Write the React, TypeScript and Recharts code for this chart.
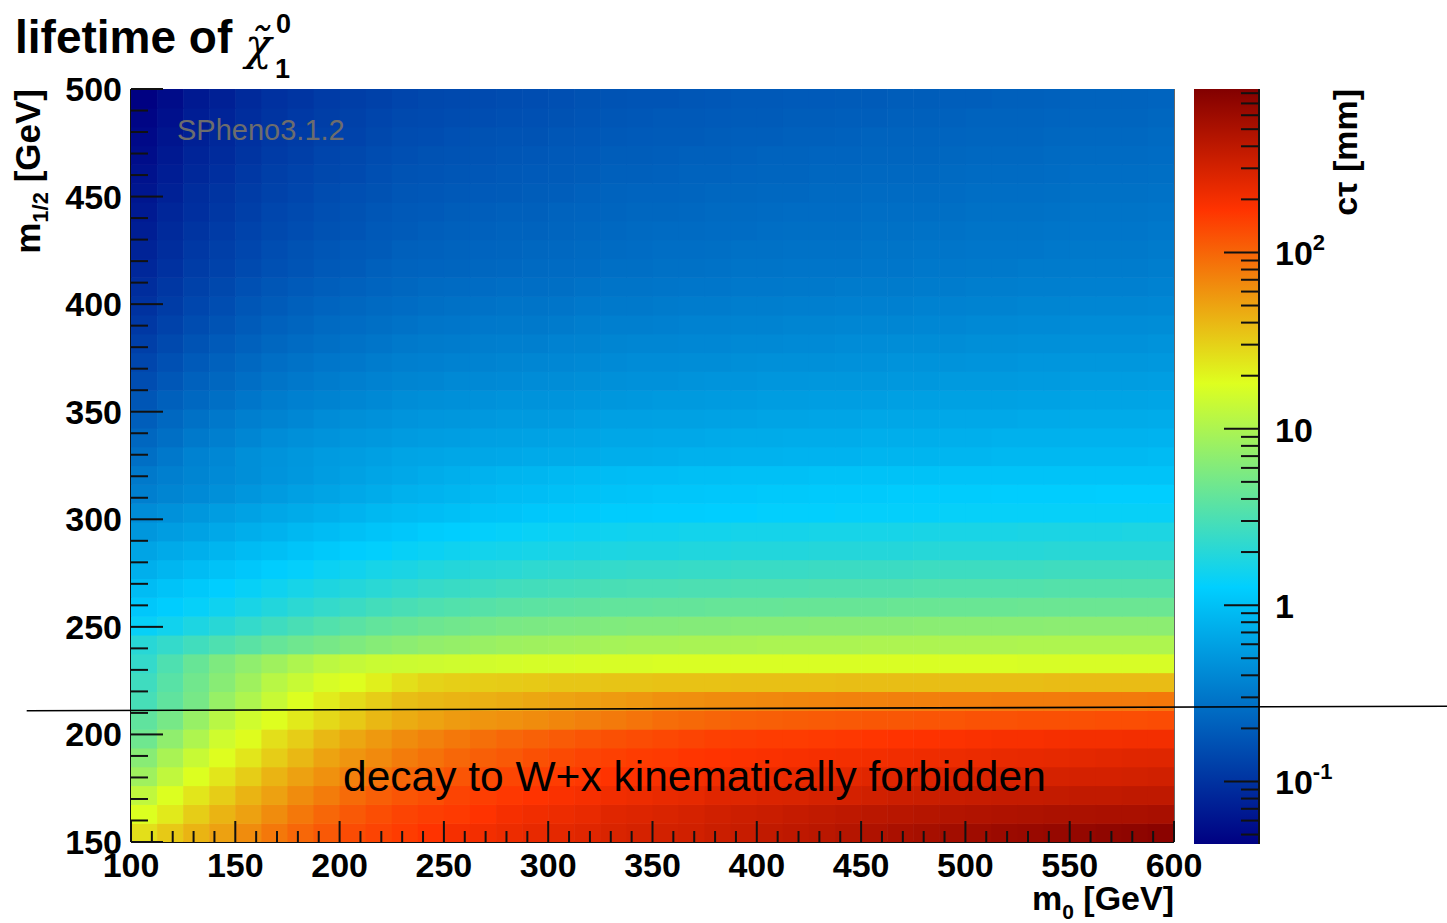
import React from 'react';
import { ScatterChart, Scatter, XAxis, YAxis, ReferenceLine } from 'recharts';

// bin edges of the 2D histogram
const m0Edges = [100, 112.5, 125, 137.5, 150, 162.5, 175, 187.5, 200, 212.5, 225, 237.5, 250, 262.5, 275, 287.5, 300, 312.5, 325, 337.5, 350, 362.5, 375, 387.5, 400, 412.5, 425, 437.5, 450, 462.5, 475, 487.5, 500, 512.5, 525, 537.5, 550, 562.5, 575, 587.5, 600];
const m12Edges = [150, 158.75, 167.5, 176.25, 185, 193.75, 202.5, 211.25, 220, 228.75, 237.5, 246.25, 255, 263.75, 272.5, 281.25, 290, 298.75, 307.5, 316.25, 325, 333.75, 342.5, 351.25, 360, 368.75, 377.5, 386.25, 395, 403.75, 412.5, 421.25, 430, 438.75, 447.5, 456.25, 465, 473.75, 482.5, 491.25, 500];

// log10(c tau / mm), one array per m1/2 bin, m0 bins left to right
const m12_150 = [1.41, 1.52, 1.62, 1.71, 1.81, 1.91, 1.99, 2.06, 2.12, 2.16, 2.20, 2.24, 2.29, 2.31, 2.34, 2.37, 2.39, 2.41, 2.45, 2.47, 2.49, 2.50, 2.53, 2.55, 2.58, 2.60, 2.62, 2.65, 2.68, 2.71, 2.73, 2.75, 2.77, 2.79, 2.80, 2.82, 2.83, 2.85, 2.86, 2.88];
const m12_158 = [1.25, 1.36, 1.50, 1.62, 1.71, 1.81, 1.91, 1.99, 2.06, 2.11, 2.16, 2.19, 2.21, 2.24, 2.29, 2.32, 2.34, 2.36, 2.41, 2.43, 2.45, 2.47, 2.50, 2.52, 2.54, 2.56, 2.58, 2.60, 2.62, 2.63, 2.65, 2.66, 2.67, 2.68, 2.69, 2.70, 2.70, 2.71, 2.71, 2.72];
const m12_167 = [1.10, 1.25, 1.38, 1.50, 1.62, 1.71, 1.81, 1.89, 1.97, 2.03, 2.08, 2.11, 2.16, 2.19, 2.22, 2.24, 2.27, 2.29, 2.32, 2.34, 2.36, 2.38, 2.41, 2.42, 2.44, 2.45, 2.47, 2.48, 2.50, 2.52, 2.53, 2.54, 2.55, 2.56, 2.56, 2.57, 2.58, 2.58, 2.59, 2.59];
const m12_176 = [0.93, 1.10, 1.25, 1.38, 1.50, 1.62, 1.71, 1.79, 1.87, 1.93, 1.99, 2.03, 2.08, 2.12, 2.15, 2.18, 2.20, 2.22, 2.24, 2.26, 2.28, 2.30, 2.32, 2.34, 2.35, 2.36, 2.38, 2.39, 2.41, 2.42, 2.43, 2.44, 2.45, 2.46, 2.46, 2.47, 2.48, 2.48, 2.49, 2.50];
const m12_185 = [0.81, 0.98, 1.14, 1.26, 1.38, 1.50, 1.60, 1.70, 1.77, 1.82, 1.89, 1.94, 1.99, 2.03, 2.06, 2.10, 2.13, 2.16, 2.18, 2.20, 2.21, 2.23, 2.24, 2.26, 2.27, 2.28, 2.29, 2.30, 2.31, 2.32, 2.33, 2.34, 2.35, 2.36, 2.37, 2.38, 2.39, 2.40, 2.41, 2.42];
const m12_193 = [0.68, 0.85, 1.01, 1.18, 1.27, 1.41, 1.50, 1.60, 1.68, 1.75, 1.81, 1.86, 1.91, 1.95, 1.99, 2.02, 2.05, 2.08, 2.10, 2.12, 2.14, 2.16, 2.18, 2.19, 2.20, 2.20, 2.21, 2.22, 2.23, 2.24, 2.25, 2.26, 2.27, 2.28, 2.28, 2.29, 2.30, 2.30, 2.31, 2.31];
const m12_202 = [0.60, 0.72, 0.89, 1.06, 1.18, 1.26, 1.36, 1.44, 1.52, 1.60, 1.66, 1.70, 1.74, 1.77, 1.79, 1.81, 1.84, 1.87, 1.90, 1.93, 1.96, 1.98, 2.00, 2.02, 2.03, 2.04, 2.05, 2.06, 2.07, 2.07, 2.08, 2.08, 2.09, 2.09, 2.10, 2.10, 2.10, 2.11, 2.11, 2.12];
const m12_211 = [0.47, 0.60, 0.72, 0.89, 1.01, 1.14, 1.25, 1.35, 1.43, 1.50, 1.57, 1.60, 1.62, 1.64, 1.66, 1.68, 1.70, 1.72, 1.74, 1.76, 1.79, 1.80, 1.81, 1.82, 1.83, 1.84, 1.85, 1.86, 1.86, 1.87, 1.87, 1.88, 1.88, 1.89, 1.89, 1.89, 1.90, 1.90, 1.90, 1.91];
const m12_220 = [0.43, 0.56, 0.69, 0.81, 0.93, 1.06, 1.14, 1.22, 1.26, 1.33, 1.41, 1.47, 1.49, 1.50, 1.51, 1.52, 1.53, 1.53, 1.54, 1.54, 1.55, 1.55, 1.55, 1.56, 1.56, 1.56, 1.56, 1.57, 1.57, 1.57, 1.57, 1.57, 1.57, 1.57, 1.57, 1.58, 1.58, 1.58, 1.58, 1.58];
const m12_228 = [0.37, 0.51, 0.64, 0.76, 0.85, 0.93, 1.01, 1.08, 1.12, 1.15, 1.16, 1.17, 1.18, 1.19, 1.20, 1.21, 1.21, 1.22, 1.22, 1.22, 1.23, 1.23, 1.23, 1.23, 1.23, 1.23, 1.23, 1.23, 1.23, 1.23, 1.23, 1.23, 1.23, 1.23, 1.22, 1.22, 1.22, 1.22, 1.22, 1.22];
const m12_237 = [0.31, 0.37, 0.44, 0.51, 0.57, 0.63, 0.68, 0.72, 0.76, 0.80, 0.83, 0.86, 0.88, 0.90, 0.92, 0.93, 0.94, 0.95, 0.96, 0.97, 0.97, 0.98, 0.98, 0.98, 0.99, 0.99, 0.99, 0.99, 1.00, 1.00, 1.00, 1.00, 1.00, 1.00, 1.01, 1.01, 1.01, 1.01, 1.01, 1.01];
const m12_246 = [0.14, 0.19, 0.25, 0.31, 0.37, 0.43, 0.48, 0.53, 0.57, 0.61, 0.64, 0.67, 0.69, 0.71, 0.73, 0.74, 0.75, 0.76, 0.77, 0.78, 0.78, 0.79, 0.79, 0.80, 0.80, 0.80, 0.81, 0.81, 0.81, 0.81, 0.82, 0.82, 0.82, 0.82, 0.82, 0.83, 0.83, 0.83, 0.83, 0.83];
const m12_255 = [0.05, 0.09, 0.13, 0.18, 0.23, 0.28, 0.33, 0.37, 0.41, 0.45, 0.48, 0.51, 0.53, 0.55, 0.57, 0.58, 0.59, 0.60, 0.61, 0.61, 0.62, 0.62, 0.63, 0.63, 0.63, 0.64, 0.64, 0.64, 0.64, 0.65, 0.65, 0.65, 0.65, 0.65, 0.66, 0.66, 0.66, 0.66, 0.66, 0.66];
const m12_263 = [-0.03, 0.02, 0.06, 0.10, 0.14, 0.18, 0.22, 0.26, 0.29, 0.32, 0.35, 0.38, 0.40, 0.42, 0.44, 0.45, 0.46, 0.47, 0.48, 0.49, 0.49, 0.50, 0.50, 0.51, 0.51, 0.51, 0.52, 0.52, 0.52, 0.52, 0.53, 0.53, 0.53, 0.53, 0.53, 0.54, 0.54, 0.54, 0.54, 0.54];
const m12_272 = [-0.12, -0.07, -0.03, 0.01, 0.05, 0.09, 0.12, 0.16, 0.19, 0.22, 0.24, 0.27, 0.29, 0.31, 0.32, 0.34, 0.35, 0.36, 0.37, 0.38, 0.38, 0.39, 0.39, 0.40, 0.40, 0.40, 0.41, 0.41, 0.41, 0.41, 0.42, 0.42, 0.42, 0.42, 0.42, 0.43, 0.43, 0.43, 0.43, 0.43];
const m12_281 = [-0.20, -0.16, -0.12, -0.08, -0.04, -0.01, 0.03, 0.06, 0.09, 0.11, 0.14, 0.16, 0.18, 0.20, 0.21, 0.22, 0.23, 0.24, 0.25, 0.26, 0.26, 0.27, 0.27, 0.28, 0.28, 0.28, 0.29, 0.29, 0.29, 0.29, 0.30, 0.30, 0.30, 0.30, 0.30, 0.31, 0.31, 0.31, 0.31, 0.31];
const m12_290 = [-0.29, -0.25, -0.21, -0.17, -0.13, -0.10, -0.06, -0.03, 0.00, 0.03, 0.05, 0.08, 0.10, 0.12, 0.13, 0.15, 0.16, 0.17, 0.18, 0.19, 0.19, 0.20, 0.20, 0.21, 0.21, 0.21, 0.22, 0.22, 0.22, 0.22, 0.23, 0.23, 0.23, 0.23, 0.24, 0.24, 0.24, 0.24, 0.25, 0.25];
const m12_298 = [-0.37, -0.33, -0.29, -0.25, -0.21, -0.18, -0.15, -0.12, -0.09, -0.06, -0.04, -0.02, 0.00, 0.02, 0.03, 0.05, 0.06, 0.07, 0.08, 0.08, 0.09, 0.09, 0.10, 0.10, 0.11, 0.11, 0.11, 0.12, 0.12, 0.12, 0.12, 0.13, 0.13, 0.13, 0.13, 0.13, 0.14, 0.14, 0.14, 0.14];
const m12_307 = [-0.46, -0.42, -0.38, -0.34, -0.30, -0.26, -0.23, -0.20, -0.17, -0.14, -0.11, -0.09, -0.07, -0.05, -0.03, -0.02, 0.00, 0.01, 0.02, 0.03, 0.04, 0.04, 0.05, 0.05, 0.06, 0.06, 0.07, 0.07, 0.07, 0.08, 0.08, 0.08, 0.08, 0.09, 0.09, 0.09, 0.09, 0.10, 0.10, 0.10];
const m12_316 = [-0.50, -0.46, -0.42, -0.38, -0.35, -0.31, -0.28, -0.25, -0.22, -0.19, -0.17, -0.14, -0.12, -0.10, -0.08, -0.07, -0.05, -0.04, -0.03, -0.02, -0.02, -0.01, -0.01, 0.00, 0.00, 0.00, 0.01, 0.01, 0.01, 0.01, 0.01, 0.02, 0.02, 0.02, 0.02, 0.02, 0.02, 0.02, 0.02, 0.02];
const m12_325 = [-0.57, -0.51, -0.44, -0.40, -0.35, -0.32, -0.29, -0.26, -0.25, -0.23, -0.20, -0.19, -0.18, -0.18, -0.17, -0.16, -0.15, -0.14, -0.13, -0.13, -0.12, -0.11, -0.11, -0.10, -0.10, -0.09, -0.09, -0.09, -0.08, -0.08, -0.08, -0.07, -0.07, -0.06, -0.06, -0.06, -0.05, -0.05, -0.05, -0.04];
const m12_333 = [-0.63, -0.57, -0.50, -0.46, -0.41, -0.37, -0.34, -0.32, -0.30, -0.28, -0.26, -0.25, -0.24, -0.23, -0.22, -0.21, -0.20, -0.19, -0.18, -0.18, -0.17, -0.17, -0.16, -0.15, -0.15, -0.14, -0.14, -0.14, -0.13, -0.13, -0.13, -0.12, -0.12, -0.11, -0.11, -0.11, -0.10, -0.10, -0.10, -0.09];
const m12_342 = [-0.69, -0.62, -0.56, -0.51, -0.46, -0.43, -0.40, -0.37, -0.35, -0.33, -0.31, -0.30, -0.29, -0.28, -0.27, -0.27, -0.26, -0.24, -0.23, -0.23, -0.22, -0.22, -0.21, -0.21, -0.20, -0.20, -0.19, -0.19, -0.18, -0.18, -0.18, -0.17, -0.17, -0.17, -0.16, -0.16, -0.15, -0.15, -0.15, -0.14];
const m12_351 = [-0.75, -0.68, -0.62, -0.57, -0.52, -0.48, -0.45, -0.43, -0.41, -0.39, -0.36, -0.35, -0.34, -0.33, -0.32, -0.32, -0.31, -0.30, -0.29, -0.28, -0.27, -0.27, -0.26, -0.26, -0.25, -0.25, -0.24, -0.24, -0.24, -0.23, -0.23, -0.22, -0.22, -0.22, -0.21, -0.21, -0.20, -0.20, -0.20, -0.19];
const m12_360 = [-0.81, -0.74, -0.67, -0.63, -0.58, -0.54, -0.51, -0.48, -0.46, -0.44, -0.42, -0.41, -0.39, -0.39, -0.38, -0.37, -0.36, -0.35, -0.34, -0.33, -0.33, -0.32, -0.31, -0.31, -0.30, -0.30, -0.29, -0.29, -0.29, -0.28, -0.28, -0.27, -0.27, -0.27, -0.26, -0.26, -0.25, -0.25, -0.25, -0.24];
const m12_368 = [-0.86, -0.79, -0.72, -0.67, -0.62, -0.58, -0.55, -0.52, -0.51, -0.48, -0.46, -0.45, -0.44, -0.43, -0.42, -0.41, -0.40, -0.39, -0.38, -0.37, -0.37, -0.36, -0.36, -0.35, -0.34, -0.34, -0.34, -0.33, -0.33, -0.32, -0.32, -0.32, -0.31, -0.31, -0.30, -0.30, -0.29, -0.29, -0.29, -0.28];
const m12_377 = [-0.91, -0.84, -0.77, -0.72, -0.67, -0.63, -0.60, -0.57, -0.55, -0.53, -0.50, -0.49, -0.48, -0.47, -0.46, -0.46, -0.44, -0.43, -0.42, -0.41, -0.41, -0.40, -0.40, -0.39, -0.39, -0.38, -0.38, -0.37, -0.37, -0.36, -0.36, -0.36, -0.35, -0.35, -0.34, -0.34, -0.33, -0.33, -0.33, -0.32];
const m12_386 = [-0.96, -0.89, -0.82, -0.77, -0.71, -0.67, -0.64, -0.61, -0.59, -0.57, -0.55, -0.53, -0.52, -0.51, -0.50, -0.50, -0.49, -0.47, -0.46, -0.46, -0.45, -0.44, -0.44, -0.43, -0.43, -0.42, -0.42, -0.41, -0.41, -0.41, -0.40, -0.40, -0.39, -0.39, -0.38, -0.38, -0.37, -0.37, -0.37, -0.36];
const m12_395 = [-1.00, -0.93, -0.86, -0.81, -0.75, -0.71, -0.68, -0.65, -0.63, -0.61, -0.59, -0.57, -0.56, -0.55, -0.54, -0.54, -0.53, -0.51, -0.50, -0.50, -0.49, -0.48, -0.48, -0.47, -0.47, -0.46, -0.46, -0.45, -0.45, -0.45, -0.44, -0.44, -0.43, -0.43, -0.42, -0.42, -0.41, -0.41, -0.41, -0.40];
const m12_403 = [-1.04, -0.97, -0.90, -0.85, -0.79, -0.75, -0.72, -0.69, -0.67, -0.65, -0.63, -0.61, -0.60, -0.59, -0.58, -0.58, -0.57, -0.55, -0.54, -0.54, -0.53, -0.52, -0.52, -0.51, -0.51, -0.50, -0.50, -0.49, -0.49, -0.49, -0.48, -0.48, -0.47, -0.47, -0.46, -0.46, -0.45, -0.45, -0.45, -0.44];
const m12_412 = [-1.08, -1.01, -0.93, -0.89, -0.83, -0.79, -0.76, -0.73, -0.71, -0.68, -0.66, -0.65, -0.64, -0.63, -0.62, -0.61, -0.60, -0.59, -0.57, -0.57, -0.56, -0.56, -0.55, -0.54, -0.54, -0.53, -0.53, -0.53, -0.52, -0.52, -0.51, -0.51, -0.50, -0.50, -0.49, -0.49, -0.48, -0.48, -0.48, -0.47];
const m12_421 = [-1.11, -1.04, -0.96, -0.91, -0.86, -0.81, -0.78, -0.75, -0.73, -0.71, -0.68, -0.67, -0.66, -0.65, -0.64, -0.63, -0.62, -0.61, -0.60, -0.59, -0.58, -0.58, -0.57, -0.56, -0.56, -0.55, -0.55, -0.55, -0.54, -0.54, -0.53, -0.53, -0.52, -0.52, -0.52, -0.51, -0.50, -0.50, -0.50, -0.49];
const m12_430 = [-1.14, -1.06, -0.99, -0.94, -0.88, -0.84, -0.81, -0.78, -0.76, -0.73, -0.71, -0.69, -0.68, -0.67, -0.66, -0.66, -0.64, -0.63, -0.62, -0.61, -0.60, -0.60, -0.59, -0.59, -0.58, -0.57, -0.57, -0.57, -0.56, -0.56, -0.55, -0.55, -0.54, -0.54, -0.54, -0.53, -0.52, -0.52, -0.52, -0.51];
const m12_438 = [-1.17, -1.09, -1.02, -0.97, -0.91, -0.86, -0.83, -0.80, -0.78, -0.75, -0.73, -0.72, -0.70, -0.69, -0.68, -0.68, -0.66, -0.65, -0.64, -0.63, -0.63, -0.62, -0.61, -0.61, -0.60, -0.59, -0.59, -0.59, -0.58, -0.58, -0.58, -0.57, -0.56, -0.56, -0.56, -0.55, -0.54, -0.54, -0.54, -0.53];
const m12_447 = [-1.20, -1.12, -1.04, -0.99, -0.93, -0.89, -0.86, -0.82, -0.80, -0.78, -0.75, -0.74, -0.73, -0.72, -0.71, -0.70, -0.69, -0.67, -0.66, -0.65, -0.65, -0.64, -0.63, -0.63, -0.62, -0.62, -0.61, -0.61, -0.60, -0.60, -0.60, -0.59, -0.58, -0.58, -0.58, -0.57, -0.56, -0.56, -0.56, -0.55];
const m12_456 = [-1.23, -1.15, -1.07, -1.02, -0.96, -0.91, -0.88, -0.85, -0.83, -0.80, -0.77, -0.76, -0.75, -0.74, -0.73, -0.72, -0.71, -0.70, -0.68, -0.68, -0.67, -0.66, -0.66, -0.65, -0.64, -0.64, -0.63, -0.63, -0.62, -0.62, -0.62, -0.61, -0.60, -0.60, -0.60, -0.59, -0.58, -0.58, -0.58, -0.57];
const m12_465 = [-1.26, -1.18, -1.10, -1.05, -0.99, -0.94, -0.91, -0.87, -0.85, -0.82, -0.80, -0.78, -0.77, -0.76, -0.75, -0.74, -0.73, -0.72, -0.70, -0.70, -0.69, -0.68, -0.68, -0.67, -0.66, -0.66, -0.65, -0.65, -0.64, -0.64, -0.64, -0.63, -0.62, -0.62, -0.62, -0.61, -0.60, -0.60, -0.60, -0.59];
const m12_473 = [-1.29, -1.21, -1.13, -1.07, -1.01, -0.96, -0.93, -0.90, -0.88, -0.85, -0.82, -0.81, -0.79, -0.78, -0.77, -0.77, -0.75, -0.74, -0.73, -0.72, -0.71, -0.71, -0.70, -0.69, -0.69, -0.68, -0.68, -0.67, -0.66, -0.66, -0.66, -0.65, -0.64, -0.64, -0.64, -0.63, -0.62, -0.62, -0.62, -0.61];
const m12_482 = [-1.32, -1.24, -1.15, -1.10, -1.04, -0.99, -0.95, -0.92, -0.90, -0.87, -0.84, -0.83, -0.82, -0.81, -0.80, -0.79, -0.78, -0.76, -0.75, -0.74, -0.73, -0.73, -0.72, -0.71, -0.71, -0.70, -0.70, -0.69, -0.69, -0.68, -0.68, -0.67, -0.66, -0.66, -0.66, -0.65, -0.64, -0.64, -0.64, -0.63];
const m12_491 = [-1.35, -1.27, -1.18, -1.13, -1.06, -1.01, -0.98, -0.94, -0.92, -0.90, -0.87, -0.85, -0.84, -0.83, -0.82, -0.81, -0.80, -0.78, -0.77, -0.76, -0.76, -0.75, -0.74, -0.73, -0.73, -0.72, -0.72, -0.71, -0.71, -0.70, -0.70, -0.69, -0.69, -0.68, -0.68, -0.67, -0.66, -0.66, -0.66, -0.65];

const lgCtauRows = [
  m12_150, m12_158, m12_167, m12_176, m12_185, m12_193, m12_202, m12_211, m12_220, m12_228,
  m12_237, m12_246, m12_255, m12_263, m12_272, m12_281, m12_290, m12_298, m12_307, m12_316,
  m12_325, m12_333, m12_342, m12_351, m12_360, m12_368, m12_377, m12_386, m12_395, m12_403,
  m12_412, m12_421, m12_430, m12_438, m12_447, m12_456, m12_465, m12_473, m12_482, m12_491,
];

// axis ticks
const xTicks = [100, 110, 120, 130, 140, 150, 160, 170, 180, 190, 200, 210, 220, 230, 240, 250, 260, 270, 280, 290, 300, 310, 320, 330, 340, 350, 360, 370, 380, 390, 400, 410, 420, 430, 440, 450, 460, 470, 480, 490, 500, 510, 520, 530, 540, 550, 560, 570, 580, 590, 600];
const yTicks = [150, 160, 170, 180, 190, 200, 210, 220, 230, 240, 250, 260, 270, 280, 290, 300, 310, 320, 330, 340, 350, 360, 370, 380, 390, 400, 410, 420, 430, 440, 450, 460, 470, 480, 490, 500];
const ctauTicks = [0.05, 0.06, 0.07, 0.08, 0.09, 0.1, 0.2, 0.3, 0.4, 0.5, 0.6, 0.7, 0.8, 0.9, 1, 2, 3, 4, 5, 6, 7, 8, 9, 10, 20, 30, 40, 50, 60, 70, 80, 90, 100, 200, 300, 400, 500, 600, 700, 800];
const ctauMajor = [0.1, 1, 10, 100];

// colour axis range (mm)
const CT_MIN = 0.0442;
const CT_MAX = 845;

// cut line m1/2 where W+x decay closes
const cutLine = [
  { x: 50, y: 211.0 },
  { x: 731, y: 213.1 },
];

const FONT = '"Liberation Sans", Arial, Helvetica, sans-serif';
const PLOT_W = 1043;
const PLOT_H = 753;
const MAIN_MARGIN = { top: 89, right: 273, bottom: 81, left: 131 };
const CB_LEFT = 1150;
const CB_MARGIN = { top: 89, right: 0, bottom: 79, left: 44 };
const CB_AXIS_W = 131;
const CB_CHART_W = 240;

const PAL = [
  [0.0, 0, 0, 0.51],
  [0.34, 0, 0.81, 1],
  [0.61, 0.87, 1, 0.12],
  [0.84, 1, 0.2, 0],
  [1.0, 0.51, 0, 0],
];

const LG_MIN = Math.log10(CT_MIN);
const LG_MAX = Math.log10(CT_MAX);

const rgb = (s: number[]) => `rgb(${Math.round(s[1] * 255)},${Math.round(s[2] * 255)},${Math.round(s[3] * 255)})`;

function palette(lg: number) {
  let t = (lg - LG_MIN) / (LG_MAX - LG_MIN);
  t = Math.max(0, Math.min(1, t));
  let k = 0;
  while (k < PAL.length - 2 && t > PAL[k + 1][0]) k++;
  const a = PAL[k];
  const b = PAL[k + 1];
  const f = (t - a[0]) / (b[0] - a[0]);
  const c = [1, 2, 3].map((i) => Math.round(255 * (a[i] + (b[i] - a[i]) * f)));
  return `rgb(${c[0]},${c[1]},${c[2]})`;
}

const cells: { m0: number; m12: number; lg: number }[] = [];
lgCtauRows.forEach((row, j) => {
  row.forEach((lg, i) => {
    cells.push({
      m0: (m0Edges[i] + m0Edges[i + 1]) / 2,
      m12: (m12Edges[j] + m12Edges[j + 1]) / 2,
      lg,
    });
  });
});

const CELL_W = PLOT_W / (m0Edges.length - 1);
const CELL_H = PLOT_H / (m12Edges.length - 1);

const renderCell = (p: any) => (
  <rect
    x={p.cx - CELL_W / 2}
    y={p.cy - CELL_H / 2}
    width={CELL_W + 0.6}
    height={CELL_H + 0.6}
    fill={palette(p.payload.lg)}
  />
);

const labelStyle = { fontFamily: FONT, fontWeight: 700, fontSize: 34, fill: '#000' };

const XTick = (props: any) => {
  const { x, y, payload } = props;
  const major = payload.value % 50 === 0;
  return (
    <g>
      <line x1={x} x2={x} y1={y} y2={y - (major ? 21 : 11)} stroke="#111" strokeWidth={2} />
      {major && (
        <text x={x} y={y + 35} textAnchor="middle" style={labelStyle}>
          {payload.value}
        </text>
      )}
    </g>
  );
};

const YTick = (props: any) => {
  const { x, y, payload } = props;
  const major = payload.value % 50 === 0;
  return (
    <g>
      <line x1={x} x2={x + (major ? 32 : 17)} y1={y} y2={y} stroke="#111" strokeWidth={2} />
      {major && (
        <text x={x - 9} y={y + 12} textAnchor="end" style={labelStyle}>
          {payload.value}
        </text>
      )}
    </g>
  );
};

const CbTick = (props: any) => {
  const { x, y, payload } = props;
  const v = payload.value;
  const major = ctauMajor.includes(v);
  let label: React.ReactNode = null;
  if (v === 1) label = '1';
  if (v === 10) label = '10';
  if (v === 100) label = (<>10<tspan dy={-15} fontSize={22}>2</tspan></>);
  if (v === 0.1) label = (<>10<tspan dy={-15} fontSize={22}>-1</tspan></>);
  return (
    <g>
      <line x1={x} x2={x - (major ? 35 : 18)} y1={y} y2={y} stroke="#111" strokeWidth={2} />
      {major && (
        <text x={x + 16} y={y + 13} textAnchor="start" style={labelStyle}>
          {label}
        </text>
      )}
    </g>
  );
};

function ColourBar() {
  const stops = PAL.map((s) => `${rgb(s)} ${s[0] * 100}%`).join(', ');
  return (
    <div style={{ position: 'absolute', left: CB_LEFT, top: 0 }}>
      {/* palette strip behind the log axis of the colour chart */}
      <div
        style={{
          position: 'absolute',
          left: CB_MARGIN.left,
          top: CB_MARGIN.top,
          width: CB_CHART_W - CB_MARGIN.left - CB_MARGIN.right - CB_AXIS_W,
          height: 923 - CB_MARGIN.top - CB_MARGIN.bottom,
          background: `linear-gradient(to top, ${stops})`,
        }}
      />
      <ScatterChart width={CB_CHART_W} height={923} margin={CB_MARGIN}>
        <XAxis type="number" dataKey="x" domain={[0, 1]} hide height={0} />
        <YAxis
          type="number"
          dataKey="ct"
          orientation="right"
          scale="log"
          domain={[CT_MIN, CT_MAX]}
          allowDataOverflow
          ticks={ctauTicks}
          interval={0}
          width={CB_AXIS_W}
          tickSize={0}
          tickMargin={0}
          tickLine={false}
          axisLine={{ stroke: '#111', strokeWidth: 2 }}
          tick={(p: any) => <CbTick {...p} />}
        />
        <Scatter data={[]} isAnimationActive={false} />
      </ScatterChart>
    </div>
  );
}

function HeatMap() {
  return (
    <div style={{ position: 'absolute', left: 0, top: 0 }}>
      <ScatterChart width={1447} height={923} margin={{ top: 89, right: 273, bottom: 31, left: 71 }}>
        <Scatter data={cells} shape={renderCell} isAnimationActive={false} />
        <ReferenceLine x={600} stroke="#333" strokeWidth={1.5} />
        <XAxis
          type="number"
          dataKey="m0"
          domain={[100, 600]}
          allowDataOverflow
          ticks={xTicks}
          interval={0}
          height={50}
          tickSize={0}
          tickMargin={0}
          tickLine={false}
          axisLine={{ stroke: '#111', strokeWidth: 2 }}
          tick={(p: any) => <XTick {...p} />}
        />
        <YAxis
          type="number"
          dataKey="m12"
          domain={[150, 500]}
          allowDataOverflow
          ticks={yTicks}
          interval={0}
          width={60}
          tickSize={0}
          tickMargin={0}
          tickLine={false}
          axisLine={{ stroke: '#111', strokeWidth: 2 }}
          tick={(p: any) => <YTick {...p} />}
        />
      </ScatterChart>
    </div>
  );
}

// transparent chart on top, same plot area, carrying the cut line over cells and colour bar
function CutLine() {
  return (
    <div style={{ position: 'absolute', left: 0, top: 0, pointerEvents: 'none' }}>
      <ScatterChart width={1447} height={923} margin={MAIN_MARGIN}>
        <XAxis type="number" dataKey="m0" domain={[100, 600]} allowDataOverflow hide />
        <YAxis type="number" dataKey="m12" domain={[150, 500]} allowDataOverflow hide />
        <Scatter data={[]} isAnimationActive={false} />
        <ReferenceLine segment={cutLine} stroke="#000" strokeWidth={1.6} ifOverflow="visible" />
      </ScatterChart>
    </div>
  );
}

function Texts() {
  const bold = { fontFamily: FONT, fontWeight: 700, fill: '#000' };
  return (
    <svg width={1447} height={923} style={{ position: 'absolute', left: 0, top: 0, pointerEvents: 'none' }}>
      <text x={15} y={53} style={{ ...bold, fontSize: 46 }}>lifetime of</text>
      <text x={245} y={60} style={{ fontFamily: '"DejaVu Serif", serif', fontStyle: 'italic', fontSize: 44, fill: '#000' }}>{'\u03C7\u0303'}</text>
      <text x={276} y={33} style={{ ...bold, fontSize: 27 }}>0</text>
      <text x={275} y={78} style={{ ...bold, fontSize: 27 }}>1</text>

      <text transform="translate(40,89) rotate(-90)" textAnchor="end" style={{ ...bold, fontSize: 35 }}>
        m<tspan dy={8} fontSize={22}>1/2</tspan><tspan dy={-8}> [GeV]</tspan>
      </text>
      <text x={1174} y={910} textAnchor="end" style={{ ...bold, fontSize: 34 }}>
        m<tspan dy={9} fontSize={21}>0</tspan><tspan dy={-9}> [GeV]</tspan>
      </text>
      <text transform="translate(1357,89) rotate(-90)" textAnchor="end" style={{ ...bold, fontSize: 34 }}>
        cτ [mm]
      </text>

      <text x={177} y={140} style={{ fontFamily: FONT, fontSize: 29, fill: '#6d6d6d' }}>SPheno3.1.2</text>
      <text x={343} y={791} style={{ fontFamily: FONT, fontSize: 42.5, fill: '#000' }}>
        decay to W+x kinematically forbidden
      </text>
    </svg>
  );
}

export default function App() {
  return (
    <div style={{ position: 'absolute', left: 0, top: 0, width: 1447, height: 923, background: '#fff' }}>
      <ColourBar />
      <HeatMap />
      <CutLine />
      <Texts />
    </div>
  );
}
